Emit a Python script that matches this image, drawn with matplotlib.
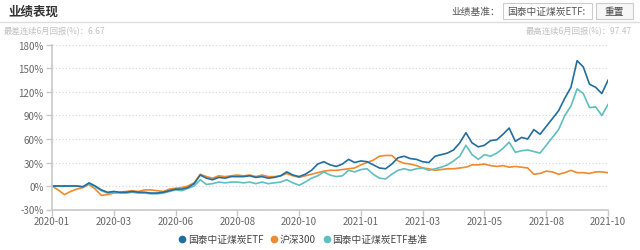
import matplotlib
matplotlib.use("Agg")
import matplotlib.pyplot as plt
from matplotlib.patches import FancyBboxPatch
from matplotlib.lines import Line2D
import numpy as np

plt.rcParams['font.family'] = ['Noto Sans CJK SC', 'DejaVu Sans']

# x tick labels (evenly spaced along the trading-day axis)
tick_labels = ["2020-01", "2020-03", "2020-06", "2020-08", "2020-10",
               "2021-01", "2021-03", "2021-05", "2021-08", "2021-10"]
steps_per_tick = 10

# cumulative returns (%)
fund = [0, 0, 0, 0, 0, -1, 4, 0, -5, -8,
        -7, -8, -8, -7, -8, -8, -9, -9, -8, -6,
        -4, -4, -2, 3, 14, 10, 8, 11, 10, 12,
        12, 12, 13, 11, 12, 10, 11, 13, 18, 14,
        12, 15, 20, 28, 31, 27, 25, 28, 34, 30,
        32, 31, 27, 23, 22, 28, 36, 38, 35, 34,
        31, 30, 38, 40, 42, 46, 55, 68, 55, 50,
        52, 58, 59, 66, 74, 57, 62, 60, 72, 66,
        76, 86, 96, 112, 126, 160, 152, 130, 126, 118,
        135]
hs300 = [0, -5, -11, -7, -4, -2, 2, -4, -12, -11,
         -9, -8, -7, -6, -7, -5, -5, -6, -7, -4,
         -3, -2, 0, 4, 15, 12, 10, 13, 12, 13,
         14, 13, 14, 12, 14, 12, 12, 13, 16, 13,
         11, 13, 15, 17, 19, 20, 20, 21, 22, 23,
         27, 30, 33, 38, 39, 39, 32, 29, 28, 26,
         23, 22, 20, 21, 22, 22, 23, 24, 27, 27,
         28, 26, 25, 26, 24, 25, 24, 23, 15, 16,
         19, 18, 15, 17, 20, 17, 17, 16, 18, 18,
         17]
bench = [0, 0, 0, 0, 0, -1, 3, -1, -6, -9,
         -8, -9, -9, -8, -9, -9, -10, -10, -9, -7,
         -5, -6, -3, 0, 8, 2, 3, 5, 4, 5,
         5, 4, 5, 3, 5, 3, 4, 5, 8, 4,
         1, 5, 10, 13, 18, 14, 12, 13, 20, 18,
         21, 22, 15, 10, 9, 15, 20, 22, 20, 22,
         23, 20, 22, 24, 27, 32, 38, 52, 40, 34,
         40, 38, 42, 48, 56, 43, 45, 46, 44, 42,
         52, 62, 72, 90, 102, 124, 118, 100, 101, 90,
         104]

names = ["国泰中证煤炭ETF", "沪深300", "国泰中证煤炭ETF基准"]
colors = ["#216e9e", "#f08a2c", "#5fbfbf"]

fig = plt.figure(figsize=(6.4, 2.51), dpi=100)
ax = fig.add_axes([52 / 640, 1 - 210.5 / 251, 556 / 640, 164.5 / 251])

x = np.arange(len(fund))
for series, c in zip([hs300, bench, fund], [colors[1], colors[2], colors[0]]):
    ax.plot(x, series, color=c, lw=1.2)

ax.set_xlim(0, len(fund) - 1)
ax.set_ylim(-30, 180)
ax.set_yticks(range(-30, 181, 30))
ax.set_yticklabels([f"{v}%" for v in range(-30, 181, 30)])
ax.set_xticks(range(0, len(fund), steps_per_tick))
ax.set_xticklabels(tick_labels)
ax.grid(axis="y", ls=(0, (1, 2)), color="#d6d6d6", lw=0.8)
ax.set_axisbelow(True)
for s in ["top", "right"]:
    ax.spines[s].set_visible(False)
for s in ["left", "bottom"]:
    ax.spines[s].set_color("#c8c8c8")
    ax.spines[s].set_linewidth(1.2)
ax.tick_params(colors="#c8c8c8", labelcolor="#666666", labelsize=7, length=4, width=1)
ax.tick_params(axis="y", pad=2)
ax.tick_params(axis="x", pad=1)

# header
fig.text(8 / 640, 1 - 12 / 251, "业绩表现", fontsize=9, fontweight="bold", color="#333333", va="center")
fig.add_artist(Line2D([0, 1], [1 - 23 / 251] * 2, color="#dddddd", lw=1))
fig.text(4 / 640, 1 - 32 / 251, "最差连续6月回报(%)：6.67", fontsize=6, color="#c0c0c0", va="center")
fig.text(632 / 640, 1 - 32 / 251, "最高连续6月回报(%)：97.47", fontsize=6, color="#c0c0c0", va="center", ha="right")
fig.text(500 / 640, 1 - 12 / 251, "业绩基准：", fontsize=7, color="#555555", va="center", ha="right")
fig.add_artist(FancyBboxPatch((503 / 640, 1 - 20 / 251), 89 / 640, 16 / 251,
                              boxstyle="square,pad=0", fc="white", ec="#cccccc", lw=0.8,
                              transform=fig.transFigure))
fig.text(507 / 640, 1 - 12 / 251, "国泰中证煤炭ETF:", fontsize=7, color="#555555", va="center")
fig.add_artist(FancyBboxPatch((596 / 640, 1 - 20 / 251), 37 / 640, 16 / 251,
                              boxstyle="square,pad=0", fc="#f7f7f7", ec="#cccccc", lw=0.8,
                              transform=fig.transFigure))
fig.text(614.5 / 640, 1 - 12 / 251, "重置", fontsize=7, color="#444444", va="center", ha="center")

# legend
handles = [Line2D([], [], marker="o", ls="none", color=c, markersize=4.5) for c in colors]
fig.legend(handles, names, loc="center", bbox_to_anchor=(302 / 640, 1 - 240 / 251), ncol=3,
           frameon=False, fontsize=7, handletextpad=0.0, columnspacing=0.5,
           handlelength=1.2, labelcolor="#444444")

fig.savefig("out.png", dpi=100)
